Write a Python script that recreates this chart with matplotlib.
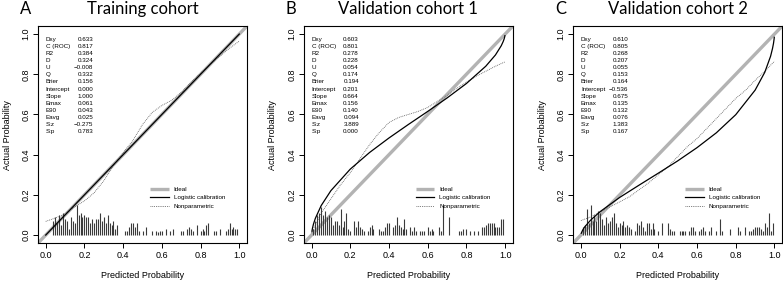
import matplotlib
matplotlib.use('Agg')
import matplotlib.pyplot as plt

plt.rcParams['font.family'] = ['Liberation Sans', 'DejaVu Sans']

# ---- data ----
panel_letters = ['A', 'B', 'C']
panel_titles = ['Training cohort', 'Validation cohort 1', 'Validation cohort 2']

stat_names = ['Dxy', 'C (ROC)', 'R2', 'D', 'U', 'Q', 'Brier', 'Intercept',
              'Slope', 'Emax', 'E90', 'Eavg', 'S:z', 'S:p']
stats_a = ['0.633', '0.817', '0.384', '0.324', '\u22120.008', '0.332', '0.156',
           '0.000', '1.000', '0.061', '0.043', '0.025', '\u22120.275', '0.783']
stats_b = ['0.603', '0.801', '0.278', '0.228', '0.054', '0.174', '0.194',
           '0.201', '0.664', '0.156', '0.140', '0.094', '3.889', '0.000']
stats_c = ['0.610', '0.805', '0.268', '0.207', '0.055', '0.153', '0.164',
           '\u22120.536', '0.675', '0.135', '0.132', '0.076', '1.383', '0.167']

# logistic calibration curves
logit_p_a = [0.0, 1.0]
logit_y_a = [0.0, 1.0]
logit_p_bc = [0.002, 0.005, 0.01, 0.02, 0.05, 0.1, 0.2, 0.3, 0.4, 0.5, 0.6,
              0.7, 0.8, 0.9, 0.95, 0.98, 0.99, 0.995, 0.998, 0.999]
logit_y_b = [0.019, 0.035, 0.055, 0.084, 0.147, 0.221, 0.328, 0.411, 0.483,
             0.550, 0.615, 0.682, 0.754, 0.840, 0.896, 0.942, 0.963, 0.976,
             0.987, 0.992]
logit_y_c = [0.009, 0.016, 0.026, 0.041, 0.074, 0.117, 0.187, 0.248, 0.308,
             0.369, 0.435, 0.509, 0.599, 0.721, 0.810, 0.890, 0.929, 0.954,
             0.975, 0.984]

# nonparametric curves
np_p = [0.0, 0.05, 0.1, 0.15, 0.2, 0.25, 0.3, 0.35, 0.4, 0.45, 0.5, 0.55,
        0.6, 0.65, 0.7, 0.75, 0.8, 0.85, 0.9, 0.95, 1.0]
np_y_a = [0.068, 0.085, 0.105, 0.14, 0.17, 0.21, 0.27, 0.345, 0.41, 0.47,
          0.55, 0.61, 0.645, 0.67, 0.71, 0.76, 0.805, 0.85, 0.89, 0.93, 0.965]
np_y_b = [0.01, 0.11, 0.18, 0.25, 0.31, 0.38, 0.45, 0.51, 0.56, 0.585, 0.60,
          0.615, 0.635, 0.665, 0.695, 0.73, 0.76, 0.79, 0.815, 0.84, 0.862]
np_y_c = [0.072, 0.09, 0.115, 0.14, 0.165, 0.19, 0.225, 0.26, 0.30, 0.34,
          0.39, 0.44, 0.48, 0.53, 0.58, 0.63, 0.68, 0.72, 0.77, 0.815, 0.865]

# spike histograms of predicted probabilities
spike_p_a = [0.04, 0.05, 0.06, 0.07, 0.08, 0.09, 0.10, 0.11, 0.12, 0.13, 0.14,
             0.15, 0.16, 0.17, 0.18, 0.19, 0.20, 0.21, 0.22, 0.23, 0.24, 0.25,
             0.26, 0.27, 0.28, 0.29, 0.30, 0.31, 0.32, 0.33, 0.34, 0.35, 0.36,
             0.37, 0.41, 0.42, 0.43, 0.44, 0.45, 0.46, 0.47, 0.48, 0.50, 0.52,
             0.55, 0.57, 0.58, 0.59, 0.60, 0.62, 0.64, 0.66, 0.70, 0.71, 0.73,
             0.74, 0.75, 0.76, 0.78, 0.80, 0.81, 0.82, 0.83, 0.84, 0.87, 0.88,
             0.90, 0.93, 0.94, 0.95, 0.96, 0.97, 0.98, 0.99]
spike_h_a = [0.07, 0.09, 0.06, 0.10, 0.05, 0.11, 0.08, 0.07, 0.03, 0.09, 0.07,
             0.06, 0.15, 0.10, 0.11, 0.09, 0.10, 0.09, 0.09, 0.06, 0.08, 0.06,
             0.08, 0.08, 0.11, 0.07, 0.09, 0.06, 0.10, 0.06, 0.05, 0.07, 0.03,
             0.05, 0.02, 0.02, 0.04, 0.06, 0.06, 0.04, 0.06, 0.02, 0.02, 0.04,
             0.02, 0.02, 0.015, 0.02, 0.02, 0.03, 0.02, 0.03, 0.02, 0.02, 0.03,
             0.04, 0.03, 0.02, 0.05, 0.02, 0.03, 0.02, 0.05, 0.06, 0.02, 0.02,
             0.03, 0.02, 0.03, 0.06, 0.03, 0.04, 0.03, 0.03]

spike_p_b = [0.01, 0.02, 0.03, 0.04, 0.05, 0.06, 0.07, 0.08, 0.09, 0.10, 0.11,
             0.12, 0.13, 0.14, 0.15, 0.16, 0.17, 0.18, 0.19, 0.20, 0.22, 0.23,
             0.24, 0.25, 0.26, 0.27, 0.29, 0.30, 0.31, 0.32, 0.35, 0.36, 0.37,
             0.38, 0.39, 0.40, 0.42, 0.43, 0.44, 0.45, 0.46, 0.47, 0.48, 0.49,
             0.51, 0.52, 0.53, 0.54, 0.56, 0.57, 0.58, 0.60, 0.61, 0.62, 0.63,
             0.66, 0.67, 0.68, 0.71, 0.76, 0.77, 0.78, 0.80, 0.82, 0.84, 0.86,
             0.88, 0.89, 0.90, 0.91, 0.92, 0.93, 0.94, 0.95, 0.96, 0.97, 0.98,
             0.99]
spike_h_b = [0.03, 0.07, 0.10, 0.11, 0.14, 0.10, 0.12, 0.09, 0.10, 0.09, 0.05,
             0.07, 0.07, 0.05, 0.13, 0.04, 0.07, 0.11, 0.03, 0.02, 0.07, 0.04,
             0.07, 0.04, 0.03, 0.02, 0.02, 0.04, 0.05, 0.03, 0.03, 0.02, 0.02,
             0.04, 0.06, 0.06, 0.04, 0.05, 0.09, 0.05, 0.04, 0.03, 0.08, 0.03,
             0.04, 0.02, 0.04, 0.02, 0.02, 0.02, 0.02, 0.04, 0.02, 0.03, 0.02,
             0.04, 0.02, 0.15, 0.09, 0.02, 0.02, 0.03, 0.03, 0.02, 0.02, 0.02,
             0.04, 0.04, 0.05, 0.06, 0.06, 0.06, 0.06, 0.04, 0.04, 0.04, 0.08,
             0.08]

spike_p_c = [0.01, 0.02, 0.03, 0.04, 0.05, 0.06, 0.07, 0.08, 0.09, 0.10, 0.11,
             0.12, 0.13, 0.14, 0.15, 0.16, 0.17, 0.18, 0.19, 0.20, 0.21, 0.22,
             0.23, 0.24, 0.25, 0.26, 0.28, 0.29, 0.30, 0.31, 0.32, 0.33, 0.34,
             0.35, 0.36, 0.37, 0.38, 0.40, 0.42, 0.45, 0.46, 0.47, 0.48, 0.51,
             0.52, 0.53, 0.54, 0.56, 0.57, 0.58, 0.59, 0.61, 0.62, 0.63, 0.64,
             0.66, 0.67, 0.70, 0.72, 0.73, 0.77, 0.81, 0.82, 0.85, 0.87, 0.88,
             0.89, 0.90, 0.91, 0.92, 0.93, 0.94, 0.95, 0.96, 0.97, 0.98, 0.99]
spike_h_c = [0.04, 0.05, 0.13, 0.06, 0.15, 0.07, 0.10, 0.07, 0.12, 0.11, 0.08,
             0.05, 0.09, 0.06, 0.07, 0.09, 0.11, 0.06, 0.04, 0.06, 0.05, 0.07,
             0.04, 0.05, 0.04, 0.03, 0.02, 0.06, 0.05, 0.07, 0.04, 0.02, 0.06,
             0.06, 0.03, 0.06, 0.03, 0.02, 0.06, 0.06, 0.03, 0.02, 0.02, 0.02,
             0.02, 0.02, 0.02, 0.02, 0.04, 0.04, 0.02, 0.02, 0.03, 0.04, 0.02,
             0.02, 0.04, 0.02, 0.08, 0.02, 0.03, 0.04, 0.02, 0.04, 0.02, 0.02,
             0.03, 0.04, 0.04, 0.04, 0.03, 0.02, 0.06, 0.04, 0.11, 0.02, 0.06]

panels = [
    (stats_a, logit_p_a, logit_y_a, np_y_a, spike_p_a, spike_h_a),
    (stats_b, logit_p_bc, logit_y_b, np_y_b, spike_p_b, spike_h_b),
    (stats_c, logit_p_bc, logit_y_c, np_y_c, spike_p_c, spike_h_c),
]

fig = plt.figure(figsize=(7.83, 2.86), dpi=100)
lefts = [0.0485, 0.388, 0.732]
ticks = [0, 0.2, 0.4, 0.6, 0.8, 1.0]
ticklabels = ['0.0', '0.2', '0.4', '0.6', '0.8', '1.0']

for i, (stats, lp, ly, npy, sp, sh) in enumerate(panels):
    ax = fig.add_axes([lefts[i], 0.150, 0.267, 0.759])
    ax.set_xlim(-0.04, 1.04)
    ax.set_ylim(-0.04, 1.04)

    # ideal line across the whole box
    ax.plot([-0.1, 1.1], [-0.1, 1.1], color='#b3b3b3', lw=2.4,
            solid_capstyle='butt', label='Ideal', zorder=1)
    ax.plot(lp, ly, color='black', lw=0.9, label='Logistic calibration', zorder=3)
    ax.plot(np_p, npy, color='#555555', lw=0.6, ls=(0, (1, 1.2)),
            label='Nonparametric', zorder=2)
    ax.vlines(sp, 0, sh, color='#3a3a3a', lw=0.8, zorder=2)

    # stats block
    for k, (name, val) in enumerate(zip(stat_names, stats)):
        yy = 0.975 - k * 0.0355
        ax.text(0.0, yy, name, fontsize=4.5, va='center', ha='left')
        ax.text(0.245, yy, val, fontsize=4.5, va='center', ha='right')

    leg = ax.legend(loc='upper left', bbox_to_anchor=(0.52, 0.275), frameon=False,
                    fontsize=4.5, handlelength=3.0, labelspacing=0.5,
                    handletextpad=0.8, borderpad=0)

    ax.set_xticks(ticks)
    ax.set_xticklabels(ticklabels)
    ax.set_yticks(ticks)
    ax.set_yticklabels(ticklabels, rotation=90, va='center')
    ax.tick_params(direction='out', length=3.5, width=0.7, labelsize=6.5, pad=2)
    for s in ax.spines.values():
        s.set_linewidth(0.8)
    ax.set_xlabel('Predicted Probability', fontsize=6.5, labelpad=8)
    ax.set_ylabel('Actual Probability', fontsize=6.5, labelpad=7)

    # panel letter and title
    x0 = lefts[i]
    fig.text(x0 - 0.016, 0.968, panel_letters[i], fontsize=12, family='Lato',
             ha='center', va='center')
    fig.text(x0 + 0.1335, 0.968, panel_titles[i], fontsize=12, family='Lato',
             ha='center', va='center')

fig.savefig('out.png', dpi=100)
